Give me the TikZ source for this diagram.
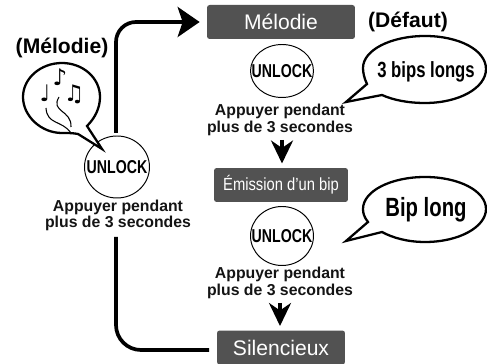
\documentclass[tikz,border=0pt]{standalone}
\usepackage{fontspec}
\setmainfont{Liberation Sans}
\newfontfamily\notefont{DejaVu Sans}
\usetikzlibrary{shapes.geometric,arrows.meta,calc}
\newcommand{\narrowtext}[2]{\makebox[0pt][c]{\scalebox{#1}[1]{#2}}}
\tikzset{
	modebox/.style={fill=black!68,rounded corners=1.5pt,text=white,inner sep=0pt,minimum height=0.68cm},
	unlockbtn/.style={draw,ellipse,line width=0.55pt,inner sep=0pt,minimum width=1.26cm,minimum height=1.18cm,font=\fontsize{10.6}{12}\selectfont\bfseries},
	presstext/.style={align=center,text=black!92,inner sep=0pt,font=\fontsize{9}{9.35}\selectfont\bfseries},
	modetitle/.style={inner sep=0pt,font=\fontsize{12}{14}\selectfont\bfseries},
	bubble/.style={draw,fill=white,line width=1.3pt,line join=miter},
	flowline/.style={line width=2.1pt},
	stepline/.style={-{Stealth[length=0.46cm,width=0.44cm,inset=0.15cm]},line width=1.9pt},
	notetext/.style={inner sep=0pt,font=\notefont\fontsize{13}{13}\selectfont}
}
\begin{document}
\begin{tikzpicture}[x=0.02cm,y=-0.02cm,line cap=butt]

	\useasboundingbox (0,0) rectangle (487,364);

	% boxes
	\node[modebox,minimum width=2.96cm] (melodie) at (281,22) {\fontsize{12}{14}\selectfont Mélodie};
	\node[modebox,minimum width=2.68cm] (bip) at (281,185) {\fontsize{10}{12}\selectfont\narrowtext{0.84}{Émission d’un bip}};
	\node[modebox,minimum width=2.56cm] (silencieux) at (281,347.5) {\fontsize{12}{14}\selectfont Silencieux};

	% buttons
	\node[unlockbtn,minimum width=1.3cm,minimum height=1.24cm] (unlockL) at (117,167) {\narrowtext{0.76}{UNLOCK}};
	\node[unlockbtn,minimum height=1.06cm] (unlockT) at (282,71) {\narrowtext{0.76}{UNLOCK}};
	\node[unlockbtn] (unlockB) at (282,236) {\narrowtext{0.76}{UNLOCK}};

	\node[presstext] (pressL) at (118,215.5) {Appuyer pendant\\plus de 3 secondes};
	\node[presstext] (pressT) at (280,120) {Appuyer pendant\\plus de 3 secondes};
	\node[presstext] (pressB) at (280,283) {Appuyer pendant\\plus de 3 secondes};

	\node[modetitle] (titleL) at (62,48) {(Mélodie)};
	\node[modetitle] (titleD) at (408,22) {(Défaut)};

	% bubbles
	\coordinate (tipL) at (102,149);
	\coordinate (tipT) at (346,102);
	\coordinate (tipB) at (346,241);

	\draw[bubble] (tipL) -- (87,126) .. controls (95,118) and (100,108) .. (100,97) .. controls (100,78) and (83,63) .. (62,63) .. controls (41,63) and (23,78) .. (23,97) .. controls (23,116) and (41,133) .. (62,133) .. controls (68,133) and (73,133) .. (78,134) -- cycle;
	\draw[bubble] (tipT) -- (367,84) .. controls (364,78) and (363,72) .. (363,68) .. controls (363,50) and (391,36) .. (425,36) .. controls (459,36) and (486,50) .. (486,69) .. controls (486,88) and (459,103) .. (425,103) .. controls (408,103) and (393,100) .. (382,95) -- cycle;
	\draw[bubble] (tipB) -- (368,222) .. controls (364,217) and (363,213) .. (363,209) .. controls (363,191) and (391,177) .. (425,177) .. controls (459,177) and (486,191) .. (486,209) .. controls (486,227) and (459,242) .. (425,242) .. controls (408,242) and (393,238) .. (382,232) -- cycle;

	\node[inner sep=0pt,font=\fontsize{12.5}{14}\selectfont\bfseries] (bubbleT) at (426,72) {\narrowtext{0.76}{3 bips longs}};
	\node[inner sep=0pt,font=\fontsize{15}{17}\selectfont\bfseries] (bubbleB) at (426,210) {\narrowtext{0.77}{Bip long}};

	% notes
	\node[notetext] (noteA) at (45,93) {♩};
	\node[notetext] (noteB) at (60,77) {♪};
	\node[notetext] (noteC) at (74,94) {♫};
	\draw[line width=0.6pt] (46,108) .. controls (47,125) and (62,120) .. (71,133);
	\draw[line width=0.6pt] (59,97) .. controls (50,112) and (72,110) .. (71,127);

	% connectors
	\coordinate (inM) at ($(melodie.west)+(-7,0)$);
	\coordinate (inS) at (209,350);
	\draw[flowline,rounded corners=0.4cm,-{Stealth[length=0.44cm,width=0.6cm,inset=0.1cm]}] (116,133) |- (inM);
	\draw[flowline,rounded corners=0.5cm] (116,237) |- (inS);
	\draw[stepline] (282,140) -- (282,163.5);
	\draw[stepline] (280,303) -- (280,326);
\end{tikzpicture}
\end{document}
